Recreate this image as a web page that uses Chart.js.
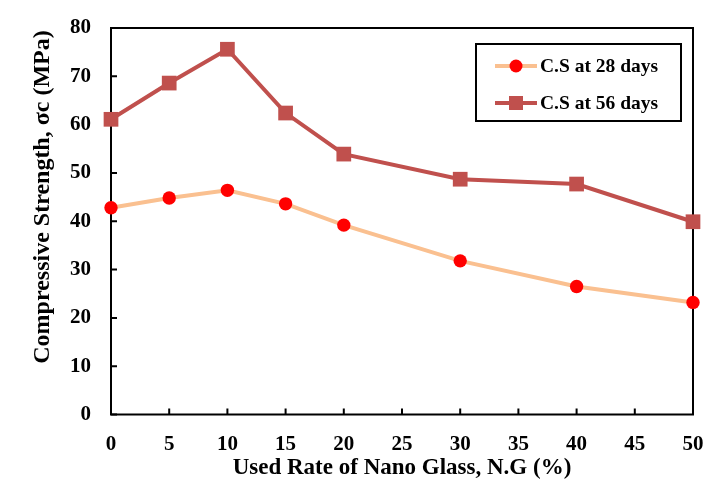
<!DOCTYPE html>
<html>
<head>
<meta charset="utf-8">
<script src="https://cdn.jsdelivr.net/npm/chart.js@4.4.0/dist/chart.umd.min.js"></script>
<style>
  html, body { margin: 0; padding: 0; background: #fff; }
  #wrap { width: 726px; height: 503px; }
</style>
</head>
<body>
<div id="wrap"><canvas id="chart" width="726" height="503"></canvas></div>
<script>
// --- data ---
const glassRate = [0, 5, 10, 15, 20, 30, 40, 50];
const cs28 = [42.8, 44.8, 46.4, 43.6, 39.2, 31.8, 26.5, 23.2];
const cs56 = [61.1, 68.6, 75.6, 62.4, 53.9, 48.7, 47.7, 39.9];
const xTicks = [0, 5, 10, 15, 20, 25, 30, 35, 40, 45, 50];
const yTicks = [0, 10, 20, 30, 40, 50, 60, 70, 80];
const seriesNames = ['C.S at 28 days', 'C.S at 56 days'];
const yTitle = 'Compressive Strength, σc (MPa)';

const FONT = "'Liberation Serif', 'Times New Roman', serif";

// frame + inward ticks, drawn under the markers
const framePlugin = {
    id: 'frame',
    beforeDatasetsDraw(chart) {
        const { ctx, chartArea: a, scales } = chart;
        ctx.save();
        ctx.strokeStyle = '#000';
        ctx.lineWidth = 2;
        ctx.strokeRect(a.left, a.top, a.right - a.left, a.bottom - a.top);
        ctx.beginPath();
        xTicks.forEach(v => {
            const px = scales.x.getPixelForValue(v);
            ctx.moveTo(px, a.bottom);
            ctx.lineTo(px, a.bottom - 6);
        });
        yTicks.forEach(v => {
            const py = scales.y.getPixelForValue(v);
            ctx.moveTo(a.left, py);
            ctx.lineTo(a.left + 6, py);
        });
        ctx.stroke();
        ctx.restore();
    },
    afterDraw(chart) {
        // y title sits a bit above the plot's middle in the original
        const { ctx } = chart;
        ctx.save();
        ctx.translate(43, 197);
        ctx.rotate(-Math.PI / 2);
        ctx.fillStyle = '#000';
        ctx.font = 'bold 24px ' + FONT;
        ctx.textAlign = 'center';
        ctx.textBaseline = 'middle';
        ctx.fillText(yTitle, 0, 0);
        ctx.restore();
    }
};

// legend box inside the plot area
const legendBox = {
    id: 'legendBox',
    afterDraw(chart) {
        const { ctx } = chart;
        const x0 = 476, y0 = 44, w = 205, h = 77;
        ctx.save();
        ctx.fillStyle = '#fff';
        ctx.fillRect(x0, y0, w, h);
        ctx.strokeStyle = '#000';
        ctx.lineWidth = 2;
        ctx.strokeRect(x0, y0, w, h);
        chart.data.datasets.forEach((ds, i) => {
            const cy = y0 + 22 + i * 37;
            ctx.strokeStyle = ds.borderColor;
            ctx.lineWidth = ds.borderWidth;
            ctx.beginPath();
            ctx.moveTo(495, cy);
            ctx.lineTo(537, cy);
            ctx.stroke();
            ctx.fillStyle = ds.pointBackgroundColor;
            if (ds.pointStyle === 'rect') {
                ctx.fillRect(516 - 7, cy - 7, 14, 14);
            } else {
                ctx.beginPath();
                ctx.arc(516, cy, 6.5, 0, Math.PI * 2);
                ctx.fill();
            }
            ctx.fillStyle = '#000';
            ctx.font = 'bold 19.5px ' + FONT;
            ctx.textBaseline = 'middle';
            ctx.fillText(ds.label, 540, cy + 1);
        });
        ctx.restore();
    }
};

new Chart(document.getElementById('chart'), {
    type: 'line',
    data: {
        datasets: [
            {
                label: seriesNames[0],
                data: glassRate.map((x, i) => ({ x, y: cs28[i] })),
                borderColor: '#FAC090',
                borderWidth: 4,
                pointStyle: 'circle',
                pointRadius: 6.7,
                pointBackgroundColor: '#FF0000',
                pointBorderWidth: 0,
                clip: false,
                tension: 0
            },
            {
                label: seriesNames[1],
                data: glassRate.map((x, i) => ({ x, y: cs56[i] })),
                borderColor: '#C0504D',
                borderWidth: 4,
                pointStyle: 'rect',
                pointRadius: 10.4,
                pointBackgroundColor: '#C0504D',
                pointBorderWidth: 0,
                clip: false,
                tension: 0
            }
        ]
    },
    options: {
        responsive: false,
        animation: false,
        layout: { padding: { left: 0, top: 28, right: 33, bottom: 0 } },
        plugins: { legend: { display: false }, tooltip: { enabled: false } },
        scales: {
            x: {
                type: 'linear',
                min: 0, max: 50,
                afterBuildTicks: s => { s.ticks = xTicks.map(v => ({ value: v })); },
                afterFit: s => { s.height = 88.5; s.paddingLeft = 0; s.paddingRight = 0; },
                grid: { display: false, drawTicks: false },
                border: { display: false },
                ticks: { color: '#000', padding: 17, font: { family: FONT, size: 21, weight: 'bold' } },
                title: {
                    display: true,
                    text: 'Used Rate of Nano Glass, N.G (%)',
                    color: '#000',
                    padding: { top: 4, bottom: 21 },
                    font: { family: FONT, size: 23, weight: 'bold' }
                }
            },
            y: {
                min: 0, max: 80,
                afterBuildTicks: s => { s.ticks = yTicks.map(v => ({ value: v })); },
                // tick padding would otherwise push the plot top down
                afterFit: s => { s.width = 111; s.paddingTop = 0; s.paddingBottom = 0; },
                grid: { display: false, drawTicks: false },
                border: { display: false },
                ticks: { color: '#000', padding: 20, font: { family: FONT, size: 21, weight: 'bold' } }
            }
        }
    },
    plugins: [framePlugin, legendBox]
});
</script>
</body>
</html>
